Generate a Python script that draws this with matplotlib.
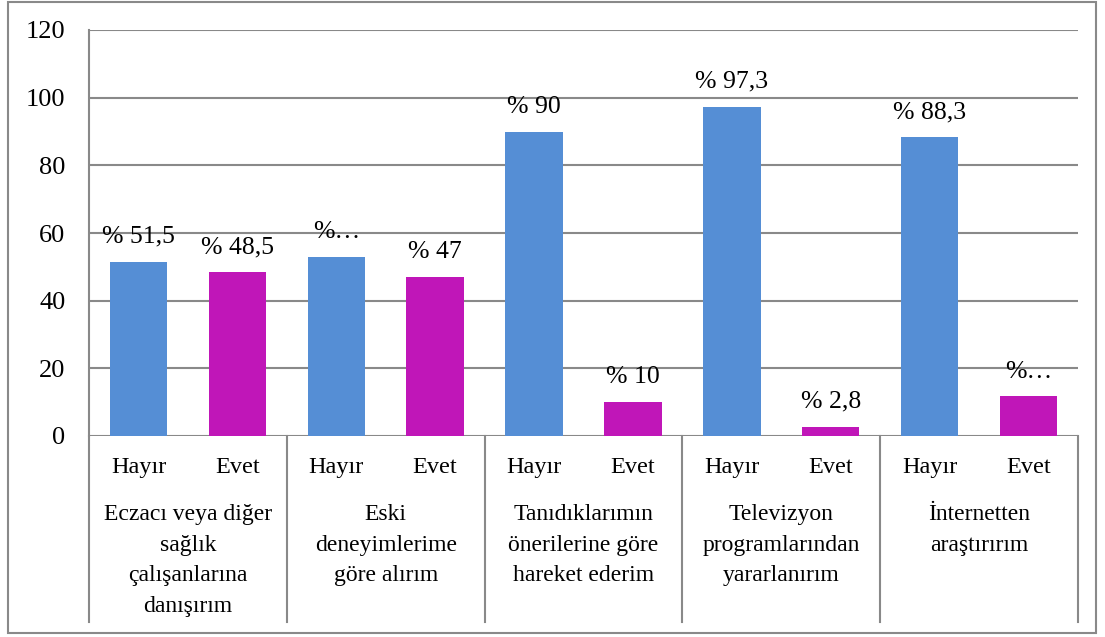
import matplotlib
matplotlib.use("Agg")
import matplotlib.pyplot as plt
import matplotlib.transforms as mtransforms
from matplotlib.patches import Rectangle

groups = ["Eczacı veya diğer\nsağlık\nçalışanlarına\ndanışırım",
          "Eski\ndeneyimlerime\ngöre alırım",
          "Tanıdıklarımın\nönerilerine göre\nhareket ederim",
          "Televizyon\nprogramlarından\nyararlanırım",
          "İnternetten\naraştırırım"]
answers = ["Hayır", "Evet"]
hayir = [51.5, 53.0, 90.0, 97.3, 88.3]
evet = [48.5, 47.0, 10.0, 2.8, 11.7]
hayir_labels = ["% 51,5", "%…", "% 90", "% 97,3", "% 88,3"]
evet_labels = ["% 48,5", "% 47", "% 10", "% 2,8", "%…"]
yticks = [0, 20, 40, 60, 80, 100, 120]

BLUE = "#558ED5"
MAGENTA = "#C016B8"
GRID = "#898989"

plt.rcParams['font.family'] = ['Liberation Serif', 'DejaVu Serif']

fig = plt.figure(figsize=(11.05, 6.37), dpi=100)
ax = fig.add_axes([89/1105, 1-436/637, (1078-89)/1105, (436-30)/637])

n = len(groups)
xs_h = [2*i for i in range(n)]
xs_e = [2*i + 1 for i in range(n)]
w = 0.58
bh = ax.bar(xs_h, hayir, width=w, color=BLUE, zorder=3)
be = ax.bar(xs_e, evet, width=w, color=MAGENTA, zorder=3)

for bars, labs in ((bh, hayir_labels), (be, evet_labels)):
    for b, lab in zip(bars, labs):
        ax.annotate(lab, (b.get_x() + b.get_width()/2, b.get_height()),
                    xytext=(0, 10), textcoords="offset points",
                    ha="center", va="bottom", fontsize=18.5, color="black")

ax.set_xlim(-0.5, 2*n - 0.5)
ax.set_ylim(0, 120)
ax.set_yticks(yticks)
ax.set_yticklabels([str(v) for v in yticks], fontsize=19)
ax.tick_params(axis='y', length=0, pad=17)
ax.set_xticks([])
ax.grid(axis='y', color=GRID, linewidth=1.5, zorder=0)
ax.set_axisbelow(True)
for s in ("top", "right", "bottom"):
    ax.spines[s].set_visible(False)
ax.spines["left"].set_color(GRID)
ax.spines["left"].set_linewidth(1.5)

trans = mtransforms.blended_transform_factory(ax.transData, ax.transAxes)
for i in range(n):
    ax.text(xs_h[i], -0.078, answers[0], transform=trans, ha="center", va="center", fontsize=17.5)
    ax.text(xs_e[i], -0.078, answers[1], transform=trans, ha="center", va="center", fontsize=17.5)
    ax.text(2*i + 0.5, -0.168, groups[i], transform=trans, ha="center", va="top",
            fontsize=17, linespacing=1.6)
for k in range(n + 1):
    ax.plot([2*k - 0.5, 2*k - 0.5], [0, -0.458], transform=trans, color=GRID,
            linewidth=1.5, clip_on=False)

fig.patches.append(Rectangle((8/1105, 4/637), (1096-8)/1105, (635-4)/637,
                             transform=fig.transFigure, fill=False,
                             edgecolor=GRID, linewidth=1.5))

fig.savefig("out.png", dpi=100)
